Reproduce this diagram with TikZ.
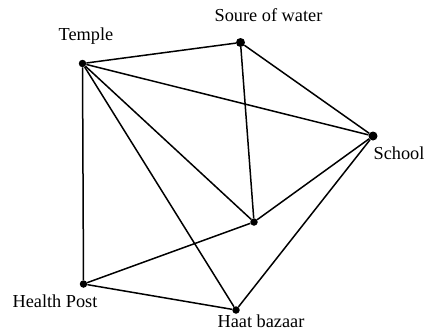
\documentclass[tikz,border=0pt]{standalone}
\usepackage{fontspec}
\setmainfont{Liberation Serif}
\begin{document}
\begin{tikzpicture}[x=1pt,y=-1pt,
  vtx/.style={circle,fill=black,inner sep=0pt,minimum size=7.5pt},
  bigvtx/.style={circle,fill=black,inner sep=0pt,minimum size=9pt},
  lbl/.style={font=\fontsize{18.3}{20}\selectfont,inner sep=0pt},
  edge/.style={line width=1.5pt,black}]
\useasboundingbox (0,0) rectangle (432,333);
\node[vtx] (temple) at (82.5,63.5) {};
\node[bigvtx] (water) at (240.5,42.5) {};
\node[bigvtx] (school) at (373,136) {};
\node[vtx] (mid) at (254,222) {};
\node[vtx] (health) at (83.5,284) {};
\node[vtx] (haat) at (236,310) {};
\node[lbl] (lt) at (86,36) {Temple};
\node[lbl] (lw) at (268.5,15) {Soure of water};
\node[lbl] (ls) at (399,153) {School};
\node[lbl] (lh) at (55,301) {Health Post};
\node[lbl] (lb) at (261,321) {Haat bazaar};
\draw[edge] (temple) -- (water);
\draw[edge] (temple) -- (school);
\draw[edge] (temple) -- (mid);
\draw[edge] (temple) -- (haat);
\draw[edge] (temple) -- (health);
\draw[edge] (water) -- (school);
\draw[edge] (water) -- (mid);
\draw[edge] (school) -- (mid);
\draw[edge] (school) -- (haat);
\draw[edge] (health) -- (mid);
\draw[edge] (health) -- (haat);
\end{tikzpicture}
\end{document}
